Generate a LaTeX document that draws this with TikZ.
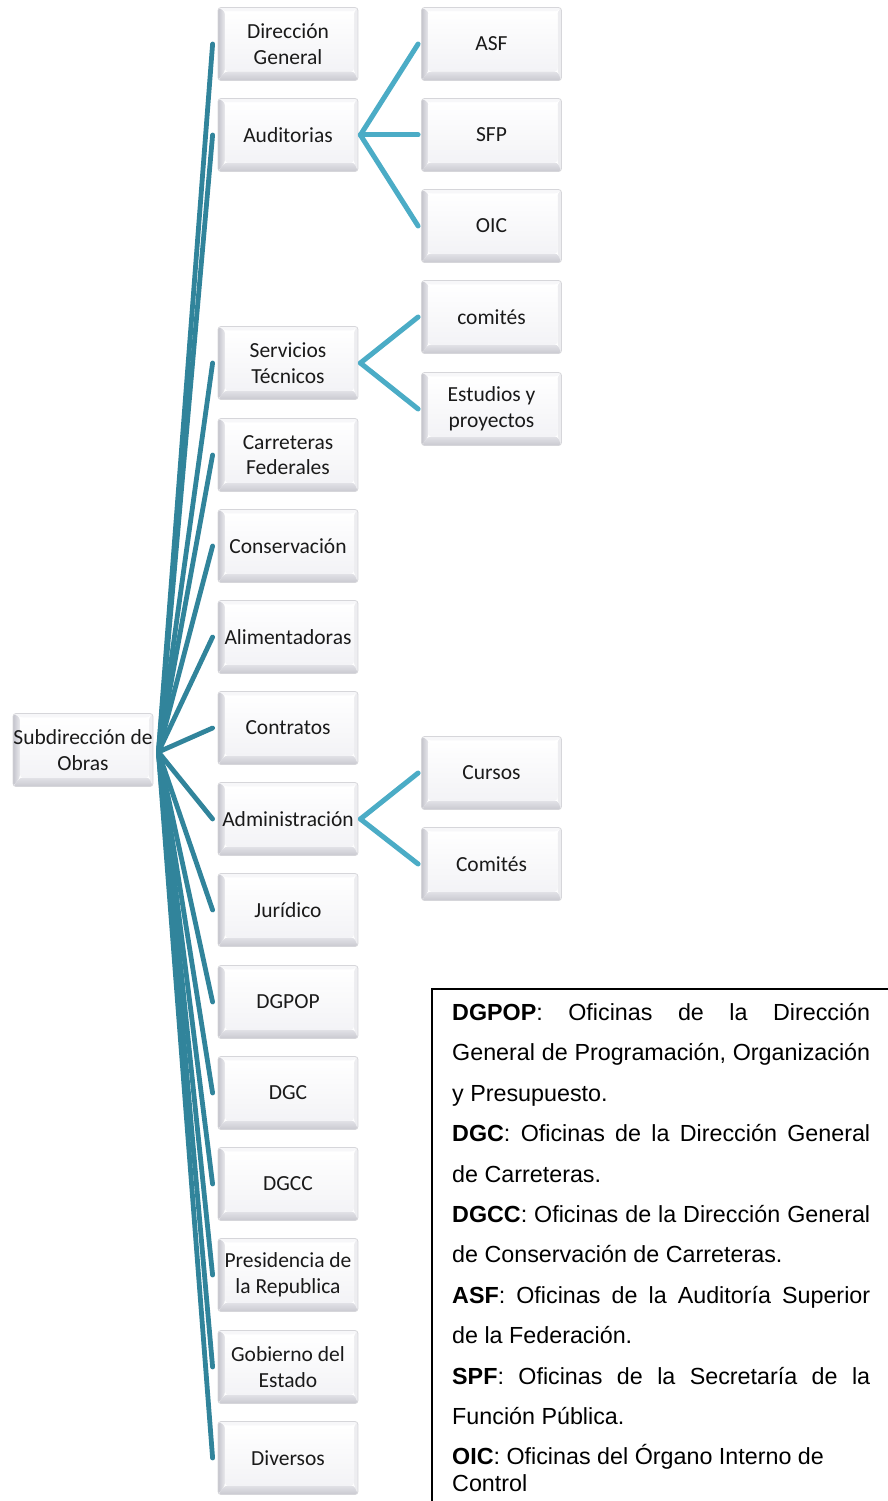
\documentclass[tikz,border=0pt]{standalone}
\usepackage{fontspec}
\setmainfont{Liberation Sans}
\newfontfamily\boxfont{Carlito}
\definecolor{trunkc}{HTML}{31849B}
\definecolor{twigc}{HTML}{4BACC6}
\definecolor{boxline}{HTML}{D6D6DA}
\definecolor{bevL}{HTML}{C4C4CC}
\definecolor{bevLi}{HTML}{EAEAEE}
\definecolor{bevB}{HTML}{C9C9D0}
\definecolor{bevBi}{HTML}{E2E2E7}
\definecolor{bevT}{HTML}{F7F7F9}
\definecolor{bevR}{HTML}{EDEDF0}
\definecolor{faceB}{HTML}{F3F3F6}
\definecolor{boxtext}{HTML}{1A1A1A}
\begin{document}
\begin{tikzpicture}[x=1pt,y=-1pt,
  box/.style={draw=boxline, line width=0.8pt, rounded corners=3pt,
    minimum width=140pt, minimum height=73pt, inner sep=0pt, align=center,
    text=boxtext, font=\boxfont\fontsize{21.5pt}{25.8pt}\selectfont,
    path picture={
      \path (path picture bounding box.south west) coordinate (bsw)
            (path picture bounding box.north east) coordinate (bne)
            (path picture bounding box.north west) coordinate (bnw)
            (path picture bounding box.south east) coordinate (bse);
      \path ([xshift=7pt,yshift=9pt]bsw) coordinate (isw)
            ([xshift=-4pt,yshift=-4pt]bne) coordinate (ine)
            ([xshift=7pt,yshift=-4pt]bnw) coordinate (inw)
            ([xshift=-4pt,yshift=9pt]bse) coordinate (ise);
      \fill[bevT] (bnw) -- (bne) -- (ine) -- (inw) -- cycle;
      \fill[bevR] (bne) -- (bse) -- (ise) -- (ine) -- cycle;
      \shade[top color=bevBi, bottom color=bevB] (bsw) -- (isw) -- (ise) -- (bse) -- cycle;
      \shade[left color=bevL, right color=bevLi] (bsw) -- (bnw) -- (inw) -- (isw) -- cycle;
      \shade[top color=white, bottom color=faceB] (inw) rectangle (ise);
    }},
  trunk/.style={draw=trunkc, line width=4.8pt, line cap=round},
  twig/.style={draw=twigc, line width=5pt, line cap=round},
  legline/.style={anchor=base west, inner sep=0pt,
    font=\fontsize{23.3pt}{28pt}\selectfont}]

\useasboundingbox (0,0) rectangle (888,1501);

% root of the hierarchy
\node[box] (root) at (83,750) {Subdirección de\\Obras};

% first level
\node[box] (dg)   at (288,44)   {Dirección\\General};
\node[box] (aud)  at (288,135)  {Auditorias};
\node[box] (st)   at (288,363)  {Servicios\\Técnicos};
\node[box] (cf)   at (288,455)  {Carreteras\\Federales};
\node[box] (cons) at (288,546)  {Conservación};
\node[box] (alim) at (288,637)  {Alimentadoras};
\node[box] (contr) at (288,728) {Contratos};
\node[box] (adm)  at (288,819)  {Administración};
\node[box] (jur)  at (288,910)  {Jurídico};
\node[box] (dgpop) at (288,1002) {DGPOP};
\node[box] (dgc)  at (288,1093) {DGC};
\node[box] (dgcc) at (288,1184) {DGCC};
\node[box] (pres) at (288,1275) {Presidencia de\\la Republica};
\node[box] (gob)  at (288,1367) {Gobierno del\\Estado};
\node[box] (div)  at (288,1458) {Diversos};

% second level
\node[box] (asf)  at (491.5,44)  {ASF};
\node[box] (sfp)  at (491.5,135) {SFP};
\node[box] (oic)  at (491.5,226) {OIC};
\node[box] (com1) at (491.5,317) {comités};
\node[box] (est)  at (491.5,409) {Estudios y\\proyectos};
\node[box] (cur)  at (491.5,773) {Cursos};
\node[box] (com2) at (491.5,864) {Comités};

% connectors from the root
\foreach \n in {dg,aud,st,cf,cons,alim,contr,adm,jur,dgpop,dgc,dgcc,pres,gob,div}
  \draw[trunk] ([xshift=5pt,yshift=-2pt]root.east) -- ([xshift=-5pt]\n.west);

% connectors to the second level
\foreach \p/\c in {aud/asf,aud/sfp,aud/oic,st/com1,st/est,adm/cur,adm/com2}
  \draw[twig] ([xshift=2pt]\p.east) -- ([xshift=-3pt]\c.west);

% legend frame
\coordinate (fbl) at (432,1501);
\coordinate (ftl) at (432,989);
\coordinate (ftr) at (888,989);
\draw[line width=1.6pt] (fbl) -- (ftl) -- (ftr);

% legend text
\node[legline] (l1)  at (452,1020.5) {\makebox[418pt][s]{\textbf{DGPOP}: Oficinas de la Dirección}};
\node[legline] (l2)  at (452,1060.9) {\makebox[418pt][s]{General de Programación, Organización}};
\node[legline] (l3)  at (452,1101.3) {y Presupuesto.};
\node[legline] (l4)  at (452,1141.7) {\makebox[418pt][s]{\textbf{DGC}: Oficinas de la Dirección General}};
\node[legline] (l5)  at (452,1182.1) {de Carreteras.};
\node[legline] (l6)  at (452,1222.5) {\makebox[418pt][s]{\textbf{DGCC}: Oficinas de la Dirección General}};
\node[legline] (l7)  at (452,1262.9) {de Conservación de Carreteras.};
\node[legline] (l8)  at (452,1303.3) {\makebox[418pt][s]{\textbf{ASF}: Oficinas de la Auditoría Superior}};
\node[legline] (l9)  at (452,1343.7) {de la Federación.};
\node[legline] (l10) at (452,1384.1) {\makebox[418pt][s]{\textbf{SPF}: Oficinas de la Secretaría de la}};
\node[legline] (l11) at (452,1424.5) {Función Pública.};
\node[legline] (l12) at (452,1464.9) {\textbf{OIC}: Oficinas del Órgano Interno de};
\node[legline] (l13) at (452,1491.5) {Control};
\end{tikzpicture}
\end{document}
